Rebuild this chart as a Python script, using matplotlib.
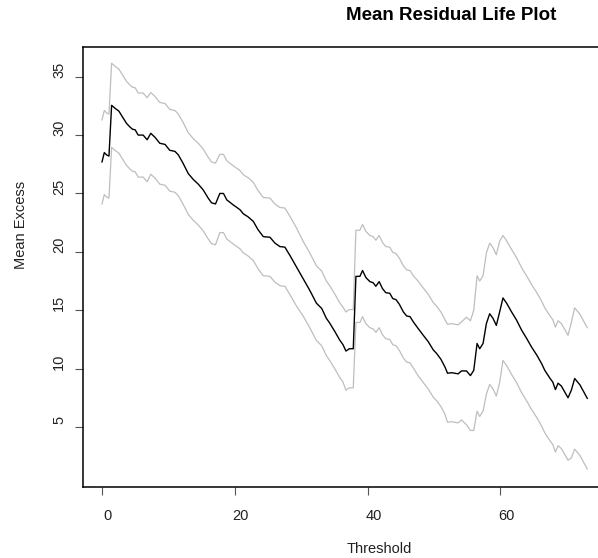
import matplotlib
matplotlib.use("Agg")
import matplotlib.pyplot as plt
import matplotlib.transforms as mtransforms

# Mean excess over threshold with its confidence half-width
threshold = [
    0.0, 0.35, 0.7, 1.05, 1.45, 1.95, 2.55, 3.2, 3.7, 4.2, 4.6, 5.0, 5.45, 6.2,
    6.8, 7.35, 8.0, 8.7, 9.5, 10.2, 11.0, 11.5, 12.2, 13.0, 13.75, 14.5, 15.25,
    16.0, 16.5, 17.1, 17.75, 18.3, 18.8, 19.7, 20.8, 21.3, 22.0, 22.8, 23.5,
    24.3, 25.3, 26.05, 26.8, 27.55, 28.3, 29.3, 30.3, 31.3, 32.3, 33.1, 33.8,
    34.3, 35.1, 35.8, 36.3, 36.75, 37.25, 37.85, 38.25, 38.85, 39.25, 39.75,
    40.35, 40.85, 41.25, 41.75, 42.25, 42.75, 43.35, 43.8, 44.3, 44.8, 45.4,
    45.9, 46.4, 46.9, 47.6, 48.4, 49.15, 49.9, 50.4, 51.05, 51.65, 52.05,
    52.65, 53.15, 53.65, 54.15, 54.9, 55.5, 56.0, 56.5, 56.9, 57.4, 57.9,
    58.4, 58.9, 59.4, 59.9, 60.4, 60.95, 61.7, 62.45, 63.2, 63.95, 64.7, 65.5,
    66.2, 66.7, 67.5, 67.9, 68.3, 68.7, 69.2, 69.7, 70.2, 70.7, 71.2, 72.0,
    73.1,
]
mean_excess = [
    27.7, 28.5, 28.3, 28.2, 32.55, 32.3, 32.05, 31.45, 31.0, 30.7, 30.5, 30.45,
    30.0, 30.0, 29.6, 30.15, 29.8, 29.3, 29.2, 28.7, 28.6, 28.3, 27.6, 26.7,
    26.2, 25.8, 25.3, 24.6, 24.2, 24.1, 25.0, 25.0, 24.45, 24.05, 23.6, 23.25,
    23.0, 22.6, 21.9, 21.3, 21.25, 20.75, 20.45, 20.4, 19.7, 18.7, 17.7, 16.7,
    15.6, 15.15, 14.3, 13.9, 13.15, 12.45, 12.05, 11.5, 11.7, 11.7, 17.9, 17.9,
    18.4, 17.8, 17.45, 17.35, 17.05, 17.45, 16.85, 16.5, 16.45, 16.0, 15.9,
    15.5, 14.85, 14.5, 14.45, 14.0, 13.45, 12.85, 12.3, 11.6, 11.3, 10.8,
    10.15, 9.6, 9.65, 9.6, 9.55, 9.8, 9.8, 9.4, 9.85, 12.15, 11.7, 12.15,
    13.85, 14.7, 14.3, 13.7, 14.85, 16.05, 15.6, 14.85, 14.15, 13.3, 12.6,
    11.85, 11.15, 10.45, 9.85, 9.15, 8.85, 8.2, 8.75, 8.5, 8.0, 7.5, 8.15,
    9.15, 8.6, 7.45,
]
ci_half = [
    3.6, 3.6, 3.6, 3.6, 3.6, 3.6, 3.6, 3.6, 3.6, 3.6, 3.6, 3.6, 3.6, 3.6,
    3.6, 3.5, 3.5, 3.5, 3.5, 3.5, 3.5, 3.5, 3.5, 3.5, 3.5, 3.5, 3.5,
    3.5, 3.5, 3.5, 3.35, 3.35, 3.35, 3.35, 3.35, 3.35, 3.35, 3.35, 3.35,
    3.35, 3.35, 3.35, 3.35, 3.35, 3.35, 3.35, 3.2, 3.2, 3.2, 3.2, 3.2,
    3.2, 3.2, 3.2, 3.2, 3.35, 3.35, 3.35, 3.95, 3.95, 3.95, 3.95,
    3.95, 3.95, 3.95, 3.95, 3.95, 3.95, 3.95, 3.95, 3.95, 3.95, 3.95,
    3.95, 3.95, 3.95, 4.05, 4.05, 4.05, 4.05, 4.05, 4.05, 4.05, 4.2,
    4.2, 4.2, 4.2, 4.2, 4.6, 4.7, 5.15, 5.8, 5.8, 5.8, 6.05,
    6.05, 6.05, 6.05, 6.05, 5.35, 5.35, 5.35, 5.35, 5.35, 5.35, 5.35, 5.35,
    5.35, 5.35, 5.35, 5.35, 5.35, 5.35, 5.35, 5.35, 5.35, 5.8, 6.05, 6.05,
    6.05,
]

x_ticks = [0, 20, 40, 60]
y_ticks = [5, 10, 15, 20, 25, 30, 35]

upper = [m + h for m, h in zip(mean_excess, ci_half)]
lower = [m - h for m, h in zip(mean_excess, ci_half)]

plt.rcParams["font.family"] = ["Liberation Sans", "DejaVu Sans"]

W, H = 598, 558
fig = plt.figure(figsize=(W / 100, H / 100), dpi=100)
left_px, right_px, top_px, bottom_px = 82.6, 606.0, 46.7, 486.5
ax = fig.add_axes([left_px / W, 1 - bottom_px / H,
                   (right_px - left_px) / W, (bottom_px - top_px) / H])

ax.plot(threshold, upper, color="#bebebe", lw=0.9)
ax.plot(threshold, lower, color="#bebebe", lw=0.9)
ax.plot(threshold, mean_excess, color="black", lw=1.0)

ax.set_xlim(-2.92, 75.92)
ax.set_ylim(-0.1, 37.57)

for s in ax.spines.values():
    s.set_linewidth(1.1)
    s.set_color("black")

ax.set_xticks(x_ticks)
ax.set_yticks(y_ticks)
ax.set_xticklabels([str(v) for v in x_ticks])
ax.set_yticklabels([str(v) for v in y_ticks])
ax.tick_params(axis="both", direction="out", length=6, width=0.8,
               color="#555555", labelsize=10.5, labelcolor="#222222")
ax.tick_params(axis="x", pad=15)
ax.tick_params(axis="y", pad=11)

shift_x = mtransforms.ScaledTranslation(6 / 100, 0, fig.dpi_scale_trans)
for lbl in ax.get_xticklabels():
    lbl.set_va("center")
    lbl.set_transform(lbl.get_transform() + shift_x)

shift_y = mtransforms.ScaledTranslation(0, 7 / 100, fig.dpi_scale_trans)
for lbl in ax.get_yticklabels():
    lbl.set_rotation(90)
    lbl.set_ha("center")
    lbl.set_va("center")
    lbl.set_transform(lbl.get_transform() + shift_y)

fig.text(451 / W, 1 - 16 / H, "Mean Residual Life Plot", ha="center",
         va="center", fontsize=13.5, fontweight="bold")
fig.text(379 / W, 1 - 549 / H, "Threshold", ha="center", va="center",
         fontsize=10.5, color="#222222")
fig.text(21 / W, 1 - 225 / H, "Mean Excess", ha="center", va="center",
         rotation=90, fontsize=10.5, color="#222222")

fig.savefig("out.png", dpi=100)
